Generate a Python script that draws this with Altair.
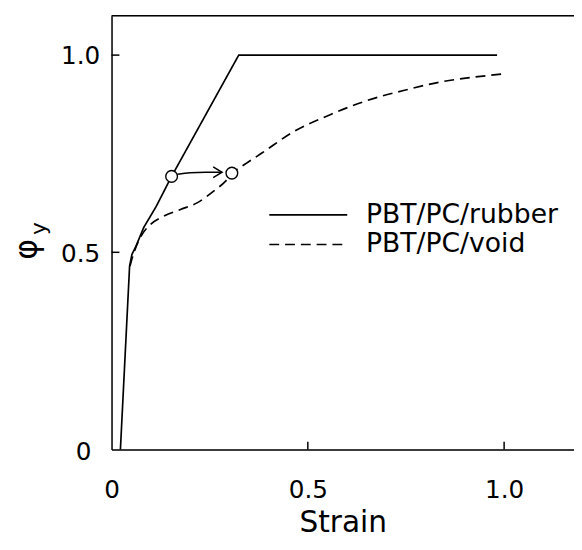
import altair as alt
import pandas as pd

# ---- data ----
series_names = ["PBT/PC/rubber", "PBT/PC/void"]

rubber_strain = [0.0226, 0.046, 0.052, 0.062, 0.082, 0.113, 0.153, 0.324, 0.982]
rubber_phi = [0.0, 0.465, 0.495, 0.515, 0.563, 0.615, 0.6925, 1.0, 1.0]

void_strain = [0.047, 0.051, 0.059, 0.076, 0.101, 0.135, 0.177, 0.219, 0.260, 0.290,
               0.307, 0.344, 0.382, 0.463, 0.557, 0.650, 0.755, 0.838, 0.922, 1.006]
void_phi = [0.465, 0.48, 0.505, 0.5425, 0.572, 0.5925, 0.609, 0.626, 0.655, 0.68,
            0.70, 0.726, 0.751, 0.8055, 0.849, 0.8845, 0.913, 0.932, 0.944, 0.953]

marker_strain = [0.153, 0.3065]
marker_phi = [0.6925, 0.7008]

arrow_strain = [0.168, 0.20, 0.24, 0.2815]
arrow_phi = [0.698, 0.7015, 0.703, 0.703]

x_tick_values = [0, 0.5, 1.0]
y_tick_values = [0, 0.5, 1.0]
inner_tick_values = [0.5, 1.0]

x_title = "Strain"
y_title_main = "φ"
y_title_sub = "y"

# ---- tables ----
rubber_df = pd.DataFrame({"strain": rubber_strain, "phi": rubber_phi,
                          "series": series_names[0], "i": range(len(rubber_strain))})
void_df = pd.DataFrame({"strain": void_strain, "phi": void_phi,
                        "series": series_names[1], "i": range(len(void_strain))})
marker_df = pd.DataFrame({"strain": marker_strain, "phi": marker_phi})
arrow_df = pd.DataFrame({"strain": arrow_strain, "phi": arrow_phi, "i": range(len(arrow_strain))})
head_df = arrow_df.tail(1)
tick_df = pd.DataFrame({"v": inner_tick_values})

W, H = 469, 440
xscale = alt.Scale(domain=[0, 1.178], nice=False, zero=False)
yscale = alt.Scale(domain=[0, 1.1], nice=False, zero=False)

FONT = "DejaVu Sans"
LABEL_EXPR = "datum.value == 0 ? '0' : format(datum.value, '.1f')"

x_enc = alt.X("strain:Q", scale=xscale,
              axis=alt.Axis(values=x_tick_values, title=x_title, labelExpr=LABEL_EXPR,
                            ticks=False, tickSize=0, labelPadding=29, labelFontSize=25,
                            labelFont=FONT, labelColor="black", labelFlush=False,
                            titleFont=FONT, titleFontSize=30, titleFontWeight="normal",
                            titleColor="black", titleBaseline="alphabetic", titleY=83,
                            domainColor="black", domainWidth=1.5, grid=False))
y_enc = alt.Y("phi:Q", scale=yscale,
              axis=alt.Axis(values=y_tick_values, title=None, labelExpr=LABEL_EXPR,
                            ticks=False, tickSize=0,
                            labelPadding={"condition": {"test": "datum.value == 0", "value": 21},
                                          "value": 12},
                            labelOffset={"condition": {"test": "datum.value == 0", "value": 2},
                                         "value": 1},
                            labelFontSize=25, labelFont=FONT, labelColor="black",
                            labelFlush=False,
                            domainColor="black", domainWidth=1.5, grid=False))

dash_scale = alt.Scale(domain=series_names, range=[[1, 0], [10, 6]])
dash_legend = alt.Legend(title=None, orient="none", legendX=159, legendY=187,
                         symbolType="stroke", symbolSize=79 * 79, symbolStrokeWidth=1.6,
                         symbolStrokeColor="black", clipHeight=30, rowPadding=0,
                         padding=0, labelFont=FONT, labelFontSize=27,
                         labelColor="black", labelOffset=18, labelLimit=400)

rubber = alt.Chart(rubber_df).mark_line(color="black", strokeWidth=1.7, interpolate="linear").encode(
    x=x_enc, y=y_enc,
    strokeDash=alt.StrokeDash("series:N", scale=dash_scale, legend=dash_legend),
    order="i:Q")

void = alt.Chart(void_df).mark_line(color="black", strokeWidth=1.7, interpolate="monotone").encode(
    x="strain:Q", y="phi:Q",
    strokeDash=alt.StrokeDash("series:N", scale=dash_scale, legend=dash_legend),
    order="i:Q")

arrow = alt.Chart(arrow_df).mark_line(color="black", strokeWidth=1.5, interpolate="monotone").encode(
    x="strain:Q", y="phi:Q", order="i:Q")

head = alt.Chart(head_df).mark_point(shape="M-1,-0.6L0,0L-1,0.6", filled=False, size=324,
                                     color="black", strokeWidth=1.5, opacity=1).encode(
    x="strain:Q", y="phi:Q")

markers = alt.Chart(marker_df).mark_point(shape="circle", filled=True, fill="white",
                                          stroke="black", strokeWidth=1.4, size=140,
                                          opacity=1).encode(x="strain:Q", y="phi:Q")

xticks = alt.Chart(tick_df).mark_rule(color="black", strokeWidth=1.5).encode(
    x=alt.X("v:Q"), y=alt.value(H), y2=alt.value(H - 8))
yticks = alt.Chart(tick_df).mark_rule(color="black", strokeWidth=1.5).encode(
    y=alt.Y("v:Q"), x=alt.value(0), x2=alt.value(8))

top_border = alt.Chart(pd.DataFrame({"k": [0]})).mark_rule(color="black", strokeWidth=1.5).encode(
    x=alt.value(0), x2=alt.value(W), y=alt.value(0))

ytitle_main = alt.Chart(pd.DataFrame({"t": [y_title_main]})).mark_text(
    font=FONT, fontSize=32, angle=270, align="center", baseline="middle", color="black").encode(
    text="t:N", x=alt.value(-86), y=alt.value(237))
ytitle_sub = alt.Chart(pd.DataFrame({"t": [y_title_sub]})).mark_text(
    font=FONT, fontSize=22, angle=270, align="center", baseline="middle", color="black").encode(
    text="t:N", x=alt.value(-73), y=alt.value(216))

chart = alt.layer(
    rubber, void, arrow, head, markers, xticks, yticks, top_border, ytitle_main, ytitle_sub
).properties(
    width=W, height=H, autosize="none",
    padding={"left": 105, "top": 4, "right": 0, "bottom": 90},
).configure_view(stroke=None).configure(background="white")

chart.save("out.html", embed_options={"renderer": "svg", "actions": False})
